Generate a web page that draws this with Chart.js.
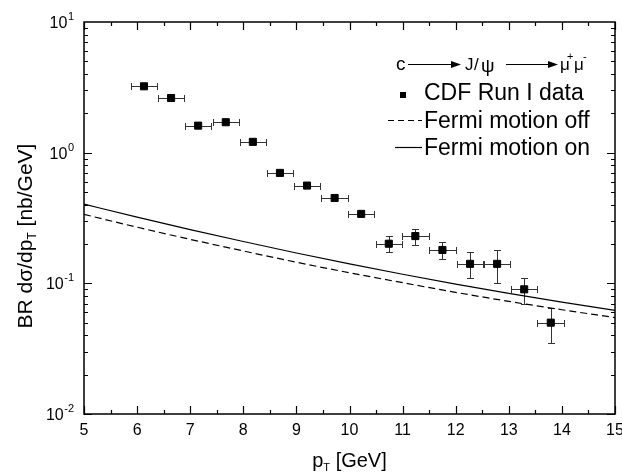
<!DOCTYPE html>
<html><head><meta charset="utf-8">
<script src="https://cdn.jsdelivr.net/npm/chart.js@4/dist/chart.umd.min.js"></script>
<style>html,body{margin:0;padding:0;background:#fff}</style>
</head><body>
<canvas id="c" width="622" height="473"></canvas>
<script>
// ---- data ----
const ptData   = [6.13, 6.64, 7.15, 7.67, 8.18, 8.69, 9.20, 9.72, 10.22, 10.74, 11.24, 11.75, 12.27, 12.78, 13.29, 13.79];
const cdfData  = [3.22, 2.62, 1.61, 1.71, 1.21, 0.70, 0.56, 0.45, 0.34, 0.201, 0.230, 0.180, 0.141, 0.141, 0.090, 0.050];
const cdfErrY  = [0.10, 0.08, 0.05, 0.05, 0.04, 0.022, 0.018, 0.015, 0.012, 0.028, 0.032, 0.026, 0.032, 0.040, 0.020, 0.015];
const cdfErrX  = [0.25, 0.25, 0.25, 0.25, 0.25, 0.25, 0.25, 0.25, 0.25, 0.25, 0.25, 0.25, 0.25, 0.25, 0.25, 0.25];
const theoryPt = [5, 6, 7, 8, 9, 10, 11, 12, 13, 14, 15];
const fermiOff = [0.337, 0.269, 0.217, 0.177, 0.145, 0.1205, 0.1011, 0.0853, 0.0728, 0.0628, 0.0547];
const fermiOn  = [0.404, 0.321, 0.2575, 0.209, 0.1706, 0.1407, 0.1174, 0.0986, 0.0837, 0.0718, 0.0621];
const xTicks   = [5, 6, 7, 8, 9, 10, 11, 12, 13, 14, 15];
const yTicks   = [10, 1, 0.1, 0.01];
const yTickExp = ['1', '0', '-1', '-2'];
const legendLabels = ['CDF Run I data', 'Fermi motion off', 'Fermi motion on'];

const FONT = '"Liberation Sans", Arial, sans-serif';

const decor = {
  id: 'decor',
  beforeDatasetsDraw(chart) {
    const ctx = chart.ctx, xs = chart.scales.x, ys = chart.scales.y;
    ctx.save();
    ctx.strokeStyle = '#333';
    ctx.lineWidth = 1;
    for (let i = 0; i < ptData.length; i++) {
      const px = Math.round(xs.getPixelForValue(ptData[i])) + 0.5;
      const py = Math.round(ys.getPixelForValue(cdfData[i])) + 0.5;
      const xl = Math.round(xs.getPixelForValue(ptData[i] - cdfErrX[i])) + 0.5;
      const xr = Math.round(xs.getPixelForValue(ptData[i] + cdfErrX[i])) + 0.5;
      const yt = Math.round(ys.getPixelForValue(cdfData[i] + cdfErrY[i])) + 0.5;
      const yb = Math.round(ys.getPixelForValue(cdfData[i] - cdfErrY[i])) + 0.5;
      ctx.beginPath();
      ctx.moveTo(xl, py); ctx.lineTo(xr, py);
      ctx.moveTo(xl, py - 3.5); ctx.lineTo(xl, py + 3.5);
      ctx.moveTo(xr, py - 3.5); ctx.lineTo(xr, py + 3.5);
      if (py - yt > 4) {
        ctx.moveTo(px, yt); ctx.lineTo(px, yb);
        ctx.moveTo(px - 3.5, yt); ctx.lineTo(px + 3.5, yt);
        ctx.moveTo(px - 3.5, yb); ctx.lineTo(px + 3.5, yb);
      }
      ctx.stroke();
    }
    ctx.restore();
  },
  afterDraw(chart) {
    const ctx = chart.ctx, xs = chart.scales.x, ys = chart.scales.y;
    const a = chart.chartArea;
    ctx.save();
    ctx.strokeStyle = '#000';
    ctx.fillStyle = '#000';
    // frame
    ctx.lineWidth = 1.5;
    ctx.strokeRect(a.left, a.top, a.right - a.left, a.bottom - a.top);
    ctx.lineWidth = 1.2;
    ctx.beginPath();
    // x ticks
    for (let v = 5; v <= 15.001; v += 0.5) {
      const p = Math.round(xs.getPixelForValue(v)) + 0.5;
      const len = (Math.abs(v - Math.round(v)) < 1e-6) ? 8 : 4;
      ctx.moveTo(p, a.bottom); ctx.lineTo(p, a.bottom - len);
      ctx.moveTo(p, a.top); ctx.lineTo(p, a.top + len);
    }
    // y ticks
    for (let d = -2; d <= 0; d++) {
      for (let m = 1; m <= 9; m++) {
        const v = m * Math.pow(10, d);
        const p = Math.round(ys.getPixelForValue(v)) + 0.5;
        const len = m === 1 ? 8 : 4;
        ctx.moveTo(a.left, p); ctx.lineTo(a.left + len, p);
        ctx.moveTo(a.right, p); ctx.lineTo(a.right - len, p);
      }
    }
    ctx.stroke();
    // x tick labels
    ctx.font = '16px ' + FONT;
    ctx.textAlign = 'center';
    ctx.textBaseline = 'alphabetic';
    xTicks.forEach(v => {
      ctx.fillText(String(v), xs.getPixelForValue(v), a.bottom + 21);
    });
    // y tick labels 10^n
    yTicks.forEach((v, i) => {
      const p = ys.getPixelForValue(v);
      ctx.font = '11px ' + FONT;
      const ew = ctx.measureText(yTickExp[i]).width;
      ctx.textAlign = 'left';
      const right = a.left - 10;
      ctx.fillText(yTickExp[i], right - ew, p - 2);
      ctx.font = '16px ' + FONT;
      ctx.textAlign = 'right';
      ctx.fillText('10', right - ew - 0.5, p + 6);
    });
    // x title
    ctx.textAlign = 'left';
    const t1 = 'p', t2 = 'T', t3 = ' [GeV]';
    ctx.font = '20px ' + FONT; const w1 = ctx.measureText(t1).width;
    ctx.font = '11px ' + FONT; const w2 = ctx.measureText(t2).width;
    ctx.font = '20px ' + FONT; const w3 = ctx.measureText(t3).width;
    let x0 = (a.left + a.right) / 2 - (w1 + w2 + w3) / 2;
    const by = 467;
    ctx.fillText(t1, x0, by);
    ctx.font = '11px ' + FONT; ctx.fillText(t2, x0 + w1, by + 4);
    ctx.font = '20px ' + FONT; ctx.fillText(t3, x0 + w1 + w2, by);
    // y title (rotated)
    ctx.save();
    ctx.translate(32, 236);
    ctx.rotate(-Math.PI / 2);
    const s1 = 'BR d\u03c3/dp', s2 = 'T', s3 = ' [nb/GeV]';
    ctx.font = '21px ' + FONT; const v1 = ctx.measureText(s1).width;
    ctx.font = '12px ' + FONT; const v2 = ctx.measureText(s2).width;
    ctx.font = '21px ' + FONT; const v3 = ctx.measureText(s3).width;
    let y0 = -(v1 + v2 + v3) / 2;
    ctx.fillText(s1, y0, 0);
    ctx.font = '12px ' + FONT; ctx.fillText(s2, y0 + v1, 4);
    ctx.font = '21px ' + FONT; ctx.fillText(s3, y0 + v1 + v2, 0);
    ctx.restore();

    // legend header: c -> J/psi -> mu+ mu-
    ctx.textAlign = 'left';
    const hy = 70;
    ctx.font = '19px ' + FONT;
    ctx.fillText('c', 396, hy);
    const arrow = (x1, x2, y) => {
      ctx.lineWidth = 1.2;
      ctx.beginPath(); ctx.moveTo(x1, y); ctx.lineTo(x2 - 6, y); ctx.stroke();
      ctx.beginPath(); ctx.moveTo(x2, y); ctx.lineTo(x2 - 10, y - 3.5); ctx.lineTo(x2 - 10, y + 3.5); ctx.closePath(); ctx.fill();
    };
    arrow(408, 461, 64.5);
    ctx.font = '17px ' + FONT;
    ctx.fillText('J', 465, hy);
    ctx.fillText('/', 474, hy);
    ctx.font = '19px ' + FONT;
    ctx.fillText('\u03c8', 481, hy + 2);
    arrow(506, 558, 64.5);
    ctx.font = '17px ' + FONT;
    ctx.fillText('\u03bc', 560, hy);
    ctx.font = '11px ' + FONT; ctx.fillText('+', 567, hy - 10);
    ctx.font = '17px ' + FONT; ctx.fillText('\u03bc', 574, hy);
    ctx.font = '11px ' + FONT; ctx.fillText('-', 583, hy - 10);

    // legend entries
    ctx.font = '23px ' + FONT;
    ctx.fillRect(400, 92, 6, 6);
    ctx.fillText(legendLabels[0], 424, 100);
    ctx.lineWidth = 1.2;
    ctx.setLineDash([6, 4]);
    ctx.beginPath(); ctx.moveTo(388, 120.5); ctx.lineTo(422, 120.5); ctx.stroke();
    ctx.setLineDash([]);
    ctx.fillText(legendLabels[1], 424, 128);
    ctx.beginPath(); ctx.moveTo(395, 147.5); ctx.lineTo(422, 147.5); ctx.stroke();
    ctx.fillText(legendLabels[2], 424, 155);
    ctx.restore();
  }
};

new Chart(document.getElementById('c'), {
  type: 'scatter',
  data: {
    datasets: [
      {
        label: legendLabels[0],
        data: ptData.map((x, i) => ({ x: x, y: cdfData[i] })),
        pointStyle: 'rect',
        pointRadius: 5,
        backgroundColor: '#000',
        borderColor: '#000',
        borderWidth: 1,
        showLine: false
      },
      {
        label: legendLabels[1],
        type: 'line',
        data: theoryPt.map((x, i) => ({ x: x, y: fermiOff[i] })),
        borderColor: '#000',
        borderWidth: 1.2,
        borderDash: [7, 4],
        pointRadius: 0,
        fill: false,
        cubicInterpolationMode: 'monotone'
      },
      {
        label: legendLabels[2],
        type: 'line',
        data: theoryPt.map((x, i) => ({ x: x, y: fermiOn[i] })),
        borderColor: '#000',
        borderWidth: 1.2,
        pointRadius: 0,
        fill: false,
        cubicInterpolationMode: 'monotone'
      }
    ]
  },
  options: {
    responsive: false,
    animation: false,
    devicePixelRatio: 1,
    layout: { padding: { left: 84, right: 7, top: 22, bottom: 59 } },
    plugins: { legend: { display: false }, tooltip: { enabled: false } },
    scales: {
      x: { type: 'linear', min: 5, max: 15, display: false },
      y: { type: 'logarithmic', min: 0.01, max: 10, display: false }
    }
  },
  plugins: [decor]
});
</script>
</body></html>
